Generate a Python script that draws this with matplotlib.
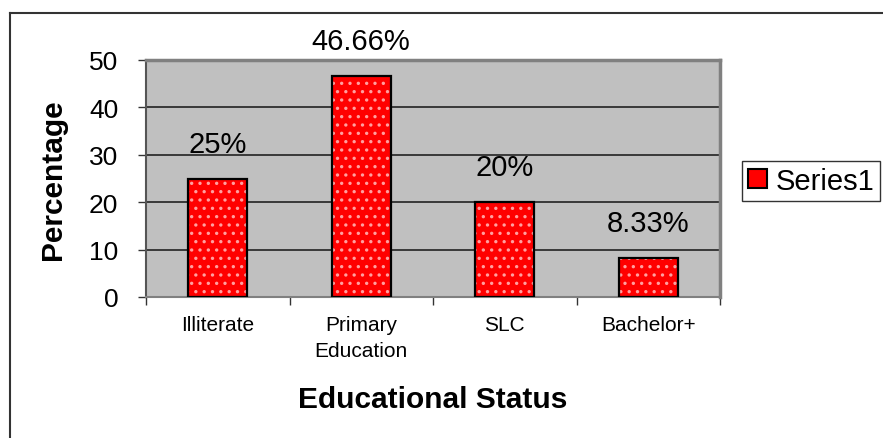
import numpy as np
import matplotlib.pyplot as plt
from matplotlib.lines import Line2D

plt.rcParams['font.family'] = ['Liberation Sans', 'DejaVu Sans']
plt.rcParams['hatch.linewidth'] = 1.2

categories = ['Illiterate', 'Primary\nEducation', 'SLC', 'Bachelor+']
values = [25, 46.66, 20, 8.33]
value_labels = ['25%', '46.66%', '20%', '8.33%']
yticks = [0, 10, 20, 30, 40, 50]

fig = plt.figure(figsize=(8.83, 4.39), dpi=100)
ax = fig.add_axes([146 / 883, 1 - 298 / 439, 574 / 883, 237 / 439])
ax.set_facecolor('#c0c0c0')

x = np.arange(len(categories))
# red fill with a light dot pattern, then the black outline on top
ax.bar(x, values, width=0.41, color='#ff0000', edgecolor='#ffa0a0',
       hatch='..', linewidth=0, zorder=2)
bars = ax.bar(x, values, width=0.41, color='none', edgecolor='black',
              linewidth=1.6, zorder=3)

for b, lab in zip(bars, value_labels):
    ax.annotate(lab, (b.get_x() + b.get_width() / 2, b.get_height()),
                xytext=(0, 15), textcoords='offset points',
                ha='center', va='bottom', fontsize=21)

ax.set_xlim(-0.5, len(categories) - 0.5)
ax.set_ylim(0, 50)
ax.set_yticks(yticks)
ax.tick_params(axis='y', labelsize=19, length=6, width=1, pad=14,
               color='#333333')
ax.yaxis.grid(True, color='#222222', linewidth=1.2)
ax.set_axisbelow(True)

ax.set_xticks(x)
ax.set_xticklabels(categories, fontsize=15, linespacing=1.45)
ax.tick_params(axis='x', length=0, pad=13)
ax.set_xticks(np.arange(len(categories) + 1) - 0.5, minor=True)
ax.tick_params(axis='x', which='minor', length=6, width=1, color='#333333')

for side in ['top', 'right']:
    ax.spines[side].set_color('#808080')
    ax.spines[side].set_linewidth(2.5)
ax.spines['left'].set_color('#555555')
ax.spines['left'].set_linewidth(1.5)
ax.spines['bottom'].set_color('#808080')
ax.spines['bottom'].set_linewidth(1.5)

ax.set_ylabel('Percentage', fontsize=21.5, fontweight='bold')
ax.yaxis.set_label_coords((53 - 146) / 574, 0.5)
ax.set_xlabel('Educational Status', fontsize=21.5, fontweight='bold')
ax.xaxis.set_label_coords((433 - 146) / 574, -(400 - 298) / 237)
ax.xaxis.label.set_va('center')
ax.yaxis.label.set_va('center')

leg = fig.legend([bars.patches[0]], ['Series1'], loc='upper left',
                 bbox_to_anchor=(742 / 883, 1 - 162 / 439), fontsize=21,
                 frameon=True, fancybox=False, edgecolor='black',
                 handlelength=0.65, handleheight=0.65, handletextpad=0.3,
                 borderpad=0.2, borderaxespad=0)
leg.get_frame().set_linewidth(1)
h = leg.legend_handles[0]
h.set_facecolor('#ff0000')
h.set_edgecolor('black')
h.set_linewidth(1.5)

# chart area border, left and top edges
fig.add_artist(Line2D([10 / 883, 10 / 883], [0, 1 - 14 / 439],
                      transform=fig.transFigure, color='#333333', lw=1.5))
fig.add_artist(Line2D([10 / 883, 1], [1 - 14 / 439, 1 - 14 / 439],
                      transform=fig.transFigure, color='#333333', lw=1.5))

fig.savefig('out.png', dpi=100)
